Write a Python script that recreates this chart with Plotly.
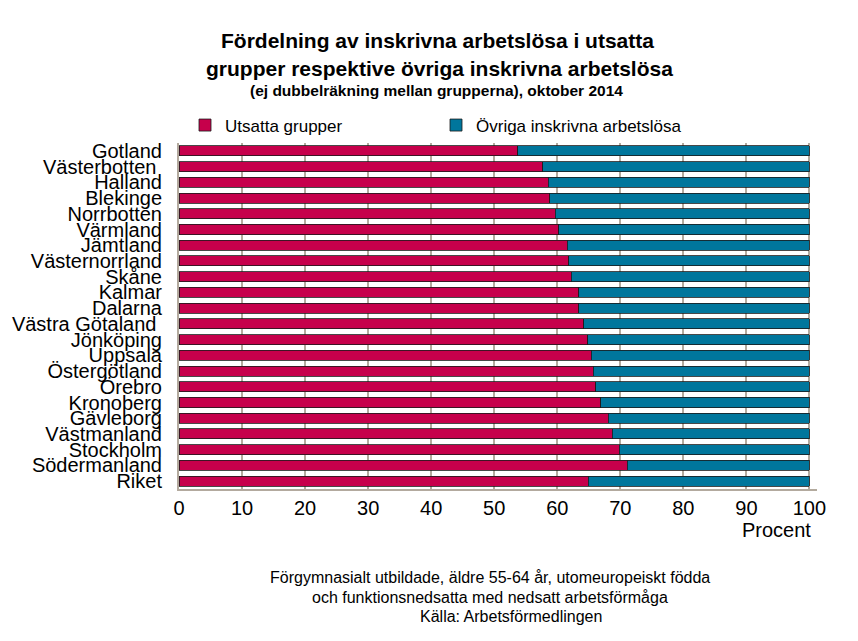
import plotly.graph_objects as go

categories = ["Gotland", "Västerbotten ", "Halland", "Blekinge", "Norrbotten", "Värmland",
              "Jämtland", "Västernorrland", "Skåne", "Kalmar", "Dalarna", "Västra Götaland ",
              "Jönköping", "Uppsala", "Östergötland", "Örebro", "Kronoberg", "Gävleborg",
              "Västmanland", "Stockholm", "Södermanland", "Riket"]
utsatta = [53.7, 57.7, 58.6, 58.8, 59.7, 60.2, 61.6, 61.8, 62.2, 63.4, 63.4, 64.2,
           64.8, 65.4, 65.7, 66.1, 66.9, 68.1, 68.7, 69.8, 71.1, 64.9]
ovriga = [round(100 - v, 1) for v in utsatta]
x_ticks = [0, 10, 20, 30, 40, 50, 60, 70, 80, 90, 100]

FONT = "Liberation Sans, Arial, sans-serif"
RED = "#C6004B"
BLUE = "#00769C"
GRID = "#B3AA9E"

L, R, T, B = 179, 41, 143, 152
PW = 858 - L - R
PH = 641 - T - B


def px(x):
    return (x - L) / PW


def py(y):
    return (641 - B - y) / PH


fig = go.Figure()
fig.add_trace(go.Bar(y=categories, x=utsatta, orientation="h", name="Utsatta grupper",
                     marker=dict(color=RED, line=dict(color="#1a1a1a", width=0.8))))
fig.add_trace(go.Bar(y=categories, x=ovriga, orientation="h", name="Övriga inskrivna arbetslösa",
                     marker=dict(color=BLUE, line=dict(color="#1a1a1a", width=0.8))))

fig.update_layout(
    width=858, height=641,
    barmode="stack", bargap=0.36,
    plot_bgcolor="white", paper_bgcolor="white",
    margin=dict(l=L, r=R, t=T, b=B, pad=0),
    font=dict(family=FONT, color="black"),
    legend=dict(orientation="h", x=px(185), xanchor="left",
                y=py(107.5), yanchor="top",
                font=dict(family=FONT, size=17, color="black"),
                entrywidth=206, entrywidthmode="pixels",
                traceorder="normal", bgcolor="rgba(0,0,0,0)"),
    showlegend=True,
)

fig.update_xaxes(range=[0, 101.2], tickvals=x_ticks, ticktext=[str(v) for v in x_ticks],
                 showgrid=True, gridcolor=GRID, gridwidth=1.5,
                 showline=True, linecolor=GRID, linewidth=2,
                 ticks="", tickfont=dict(family=FONT, size=20, color="black"),
                 zeroline=False, automargin=False)
fig.update_yaxes(categoryorder="array", categoryarray=categories, autorange="reversed",
                 tickmode="array", tickvals=categories, ticktext=categories,
                 showgrid=False, showline=True, linecolor=GRID, linewidth=2,
                 ticks="", ticklabelstandoff=11, automargin=False,
                 tickfont=dict(family=FONT, size=20, color="black"))

title_lines = [("Fördelning av inskrivna arbetslösa i utsatta", 21, 437, 40),
               ("grupper respektive övriga inskrivna arbetslösa", 21, 439, 68.5),
               ("(ej dubbelräkning mellan grupperna), oktober 2014", 15.5, 436, 91)]
for text, size, xc, yc in title_lines:
    fig.add_annotation(text=text, xref="paper", yref="paper", x=px(xc), y=py(yc),
                       xanchor="center", yanchor="middle", showarrow=False,
                       font=dict(family=FONT, size=size, weight="bold", color="black"))

fig.add_annotation(text="Procent", xref="x", yref="paper", x=100.6, y=py(530),
                   xanchor="right", yanchor="middle", showarrow=False,
                   font=dict(family=FONT, size=20, color="black"))

footer_lines = [("Förgymnasialt utbildade, äldre 55-64 år, utomeuropeiskt födda", 490, 577),
                ("och funktionsnedsatta med nedsatt arbetsförmåga", 490, 597),
                ("Källa: Arbetsförmedlingen", 511, 616)]
for text, xc, yc in footer_lines:
    fig.add_annotation(text=text, xref="paper", yref="paper", x=px(xc), y=py(yc),
                       xanchor="center", yanchor="middle", showarrow=False,
                       font=dict(family=FONT, size=16, color="black"))

fig.write_html("out.html", post_script="document.body.style.margin='0';",
               config={"displayModeBar": False})
